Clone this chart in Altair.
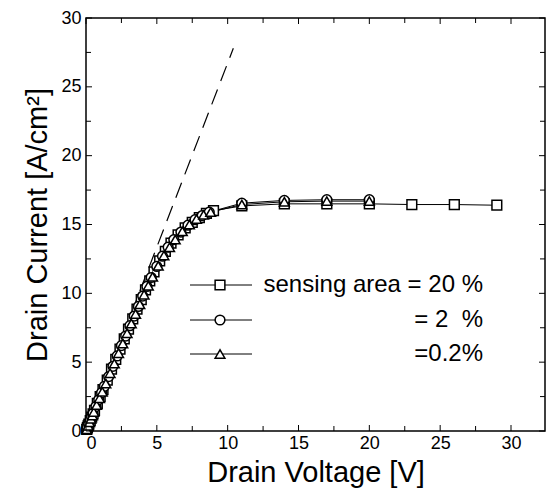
import altair as alt
import pandas as pd

# ---- data ----
sq_v = [0.05, 0.1, 0.15, 0.2, 0.3, 0.4, 0.5, 0.6, 0.8, 1.0, 1.2, 1.5, 1.8, 2.1, 2.4, 2.7, 3.0, 3.3, 3.6, 3.9,
        4.2, 4.5, 4.8, 5.2, 5.6, 6.0, 6.5, 7.0, 7.5, 8.0, 8.5, 9.0, 11, 14, 17, 20, 23, 26, 29]
sq_i = [0.12, 0.25, 0.37, 0.5, 0.75, 1.0, 1.25, 1.5, 2.0, 2.5, 3.0, 3.7, 4.5, 5.2, 5.95, 6.7, 7.4, 8.15, 8.85, 9.55,
        10.25, 10.9, 11.55, 12.35, 13.05, 13.65, 14.25, 14.75, 15.15, 15.5, 15.8, 16.0, 16.35, 16.5, 16.5, 16.5, 16.45, 16.45, 16.4]

ci_v = [0.05, 0.1, 0.2, 0.3, 0.4, 0.5, 0.7, 0.9, 1.1, 1.3, 1.6, 1.9, 2.2, 2.5, 2.8, 3.1, 3.4, 3.7, 4.0, 4.3,
        4.6, 5.0, 5.4, 5.8, 6.2, 6.7, 7.2, 7.7, 8.2, 8.7, 11, 14, 17, 20]
ci_i = [0.13, 0.26, 0.52, 0.78, 1.03, 1.28, 1.78, 2.28, 2.78, 3.25, 3.95, 4.7, 5.45, 6.2, 6.9, 7.65, 8.35, 9.05, 9.8, 10.5,
        11.15, 11.95, 12.7, 13.35, 13.9, 14.45, 14.95, 15.35, 15.65, 15.9, 16.55, 16.75, 16.8, 16.8]

tr_v = [0.05, 0.15, 0.25, 0.35, 0.45, 0.55, 0.75, 0.95, 1.15, 1.4, 1.7, 2.0, 2.3, 2.6, 2.9, 3.2, 3.5, 3.8, 4.1, 4.4,
        4.7, 5.1, 5.5, 5.9, 6.3, 6.8, 7.3, 7.8, 8.3, 8.8, 11, 14, 17, 20]
tr_i = [0.12, 0.38, 0.63, 0.88, 1.13, 1.38, 1.88, 2.38, 2.85, 3.45, 4.2, 4.9, 5.65, 6.35, 7.1, 7.8, 8.5, 9.2, 9.9, 10.55,
        11.2, 12.0, 12.75, 13.35, 13.9, 14.5, 15.0, 15.4, 15.7, 15.9, 16.45, 16.65, 16.7, 16.7]

dash_v = [0, 10.4]
dash_i = [0, 27.8]

series_names = ["20 %", "2 %", "0.2 %"]
series_shapes = ["square", "circle", "triangle-up"]
legend_labels = ["sensing area = 20 %", "= 2\u00a0\u00a0%", "=0.2%"]

x_ticks = [0, 5, 10, 15, 20, 25, 30]
y_ticks = [0, 5, 10, 15, 20, 25, 30]
x_minor = [2.5, 7.5, 12.5, 17.5, 22.5, 27.5]
y_minor = [2.5, 7.5, 12.5, 17.5, 22.5, 27.5]

# ---- tables ----
rows = []
for name, vs, cs in zip(series_names, [sq_v, ci_v, tr_v], [sq_i, ci_i, tr_i]):
    for k, (v, c) in enumerate(zip(vs, cs)):
        rows.append({"series": name, "V": v, "I": c, "order": k})
df = pd.DataFrame(rows)
dash_df = pd.DataFrame({"V": dash_v, "I": dash_i})

W, H = 459, 413
FONT = "Liberation Sans"

xs = alt.Scale(domain=[0, 32.4], nice=False, zero=False)
ys = alt.Scale(domain=[0, 30], nice=False, zero=False)

x_axis = alt.Axis(values=x_ticks, ticks=False, domain=False, grid=False, labelFontSize=18,
                  labelFont=FONT, labelColor="black", labelPadding=3, title="Drain Voltage [V]",
                  titleFont=FONT, titleFontSize=29, titleFontWeight="normal", titleColor="black",
                  titlePadding=6)
y_axis = alt.Axis(values=y_ticks, ticks=False, domain=False, grid=False, labelFontSize=18,
                  labelFont=FONT, labelColor="black", labelPadding=5, title="Drain Current [A/cm²]",
                  titleFont=FONT, titleFontSize=29, titleFontWeight="normal", titleColor="black",
                  titlePadding=8)

def X(field):
    return alt.X(field, scale=xs, axis=x_axis, title="Drain Voltage [V]")

def Y(field):
    return alt.Y(field, scale=ys, axis=y_axis, title="Drain Current [A/cm²]")

shape_scale = alt.Scale(domain=series_names, range=series_shapes)

lines = alt.Chart(df).mark_line(color="black", strokeWidth=1).encode(
    x=X("V:Q"), y=Y("I:Q"), detail="series:N", order="order:Q",
)

points = alt.Chart(df).mark_point(filled=True, fill="white", stroke="black", strokeWidth=1.5, opacity=1, size=95).encode(
    x=X("V:Q"), y=Y("I:Q"),
    shape=alt.Shape("series:N", scale=shape_scale, legend=None),
)

dash = alt.Chart(dash_df).mark_line(color="black", strokeWidth=1.2, strokeDash=[16, 9]).encode(
    x=X("V:Q"), y=Y("I:Q"),
)

# inward ticks on all four sides
def xtick_layer(vals, length):
    d = pd.DataFrame({"V": vals})
    bottom = alt.Chart(d).mark_rule(color="black", strokeWidth=1).encode(
        x=X("V:Q"), y=alt.value(H), y2=alt.value(H - length))
    top = alt.Chart(d).mark_rule(color="black", strokeWidth=1).encode(
        x=X("V:Q"), y=alt.value(0), y2=alt.value(length))
    return [bottom, top]

def ytick_layer(vals, length):
    d = pd.DataFrame({"I": vals})
    left = alt.Chart(d).mark_rule(color="black", strokeWidth=1).encode(
        y=Y("I:Q"), x=alt.value(0), x2=alt.value(length))
    right = alt.Chart(d).mark_rule(color="black", strokeWidth=1).encode(
        y=Y("I:Q"), x=alt.value(W), x2=alt.value(W - length))
    return [left, right]

tick_layers = xtick_layer(x_ticks, 6) + xtick_layer(x_minor, 5) + ytick_layer(y_ticks, 6) + ytick_layer(y_minor, 5)

# in-plot legend
leg_layers = []
row_y = [267, 302, 336]
for lab, shp, ry in zip(legend_labels, series_shapes, row_y):
    d = pd.DataFrame({"label": [lab]})
    leg_layers.append(alt.Chart(d).mark_rule(color="black", strokeWidth=1).encode(
        x=alt.value(104), x2=alt.value(166), y=alt.value(ry)))
    leg_layers.append(alt.Chart(d).mark_point(shape=shp, filled=True, fill="white", stroke="black",
                                              strokeWidth=1.5, opacity=1, size=95).encode(
        x=alt.value(134), y=alt.value(ry)))
    leg_layers.append(alt.Chart(d).mark_text(align="right", baseline="middle", font=FONT, fontSize=24,
                                             color="black").encode(
        x=alt.value(397), y=alt.value(ry), text="label:N"))

chart = alt.layer(lines, dash, points, *tick_layers, *leg_layers).properties(
    width=W, height=H,
    background="white",
    padding={"left": 86, "top": 18, "right": 10, "bottom": 62},
    autosize=alt.AutoSizeParams(type="none"),
).configure_view(stroke="black", strokeWidth=1.5)

chart.save("out.html", embed_options={"renderer": "svg", "actions": False})
